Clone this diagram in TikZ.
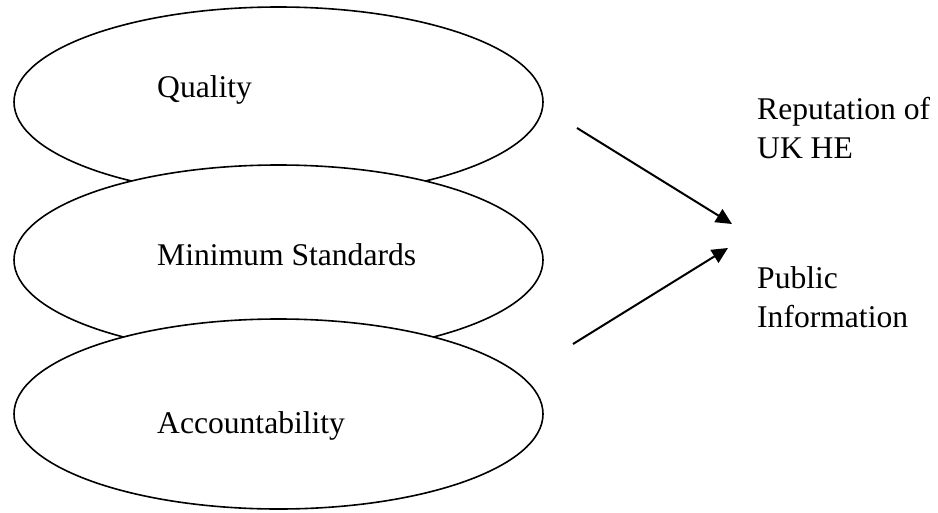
\documentclass[tikz,border=0pt]{standalone}
\usepackage{fontspec}
\setmainfont{Liberation Serif}
\usetikzlibrary{shapes.geometric,arrows.meta}
\begin{document}
\begin{tikzpicture}[x=1pt,y=-1pt,
  oval/.style={ellipse,draw=black,line width=1.6pt,fill=white,
    minimum width=529pt,minimum height=190pt,inner sep=0pt},
  label/.style={anchor=base west,inner sep=0pt,
    font=\fontsize{31.6}{38.5}\selectfont,align=left},
  link/.style={line width=2pt,-{Triangle[length=16pt,width=15pt]}}]
\useasboundingbox (0,0) rectangle (938,512);
% stacked ovals, each one covering the lower edge of the one above
\node[oval] (quality) at (278.5,102) {};
\node[oval] (standards) at (278.5,260) {};
\node[oval] (account) at (278.5,414) {};
\node[label] (tq) at (157,97) {Quality};
\node[label] (ts) at (157,265) {Minimum Standards};
\node[label] (ta) at (157,433) {Accountability};
% outcomes on the right (base anchor sits on the last line)
\node[label] (rep) at (757,158) {Reputation of\\UK HE};
\node[label] (pub) at (757,327) {Public\\Information};
% arrows converging between the two outcomes
\coordinate (a1) at (577,128);
\coordinate (t1) at (732,224);
\coordinate (a2) at (573,344);
\coordinate (t2) at (728,248);
\draw[link] (a1) -- (t1);
\draw[link] (a2) -- (t2);
\end{tikzpicture}
\end{document}
